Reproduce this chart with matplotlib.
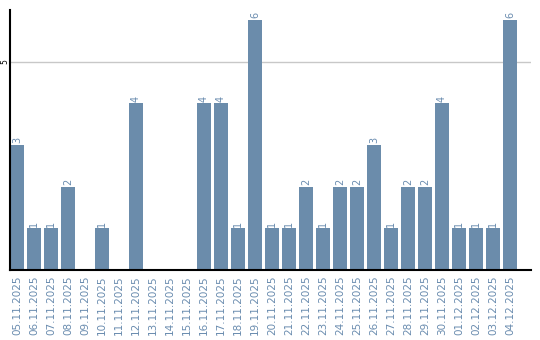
import matplotlib
matplotlib.use("Agg")
import matplotlib.pyplot as plt

# ---------------------------------------------------------------------------
# Data
# ---------------------------------------------------------------------------
dates = [
    "05.11.2025", "06.11.2025", "07.11.2025", "08.11.2025", "09.11.2025",
    "10.11.2025", "11.11.2025", "12.11.2025", "13.11.2025", "14.11.2025",
    "15.11.2025", "16.11.2025", "17.11.2025", "18.11.2025", "19.11.2025",
    "20.11.2025", "21.11.2025", "22.11.2025", "23.11.2025", "24.11.2025",
    "25.11.2025", "26.11.2025", "27.11.2025", "28.11.2025", "29.11.2025",
    "30.11.2025", "01.12.2025", "02.12.2025", "03.12.2025", "04.12.2025",
]
counts = [3, 1, 1, 2, 0, 1, 0, 4, 0, 0,
          0, 4, 4, 1, 6, 1, 1, 2, 1, 2,
          2, 3, 1, 2, 2, 4, 1, 1, 1, 6]
y_ticks = [5]

# ---------------------------------------------------------------------------
# Styling
# ---------------------------------------------------------------------------
BAR_COLOR = "#6b8cab"
TEXT_COLOR = "#6a8caf"
GRID_COLOR = "#c8c8c8"
BAR_WIDTH = 0.824

fig = plt.figure(figsize=(5.4, 3.4), dpi=100)
ax = fig.add_axes([10 / 540, 70 / 340, 521 / 540, 260 / 340])

x = list(range(len(dates)))
ax.bar(x, counts, width=BAR_WIDTH, color=BAR_COLOR, zorder=2)

# value labels above non-empty bars
for xi, v in zip(x, counts):
    if v > 0:
        ax.text(xi, v + 0.04, str(v), rotation=90, ha="center", va="bottom",
                fontsize=7, color=TEXT_COLOR)

ax.set_xlim(-BAR_WIDTH / 2, len(dates) - 1 + BAR_WIDTH * 1.5)
ax.set_ylim(0, 6.24)

ax.set_yticks(y_ticks)
ax.set_yticklabels([str(t) for t in y_ticks], rotation=90, va="center",
                   fontsize=5.5, color="black")
ax.tick_params(axis="y", length=0, pad=0.5)
ax.yaxis.grid(True, color=GRID_COLOR, linewidth=1, zorder=0)

ax.set_xticks(x)
ax.set_xticklabels(dates, rotation=90, fontsize=7.5, color=TEXT_COLOR)
ax.tick_params(axis="x", length=0, pad=4)

for side in ("top", "right"):
    ax.spines[side].set_visible(False)
for side in ("left", "bottom"):
    ax.spines[side].set_linewidth(1.5)
    ax.spines[side].set_color("black")

fig.savefig("out.png", dpi=100, facecolor="white")
